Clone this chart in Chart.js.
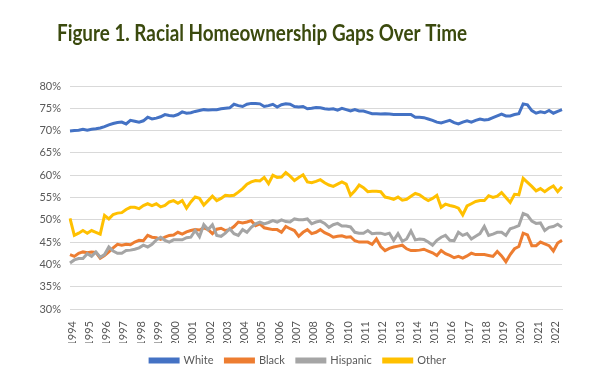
<!DOCTYPE html>
<html>
<head>
<meta charset="utf-8">
<script src="https://cdn.jsdelivr.net/npm/chart.js@4"></script>
<style>
  html, body { margin: 0; padding: 0; background: #fff; }
  #box { width: 596px; height: 376px; }
</style>
</head>
<body>
<div id="box"><canvas id="myChart"></canvas></div>
<script>
// années affichées sur l'axe (une étiquette par T1)
const annees = [1994,1995,1996,1997,1998,1999,2000,2001,2002,2003,2004,2005,2006,2007,
  2008,2009,2010,2011,2012,2013,2014,2015,2016,2017,2018,2019,2020,2021,2022];
const nbTrimestres = 115; // 1994T1 -> 2022T3

// taux de propriétaires (%) par trimestre
const white = [
  69.9,70.0,70.1,70.3, 70.1,70.3,70.4,70.6, 70.9,71.3,71.6,71.8, 71.9,71.5,72.3,72.1,
  71.9,72.2,73.0,72.6, 72.8,73.1,73.6,73.4, 73.3,73.6,74.2,73.9, 74.0,74.3,74.5,74.7,
  74.6,74.7,74.7,74.9, 75.0,75.1,75.9,75.6, 75.4,75.9,76.1,76.1, 76.0,75.4,75.6,75.9,
  75.3,75.8,76.0,75.9, 75.4,75.3,75.4,74.9, 75.0,75.2,75.1,74.9, 74.8,74.9,74.6,75.0,
  74.7,74.4,74.7,74.4, 74.4,74.1,73.8,73.8, 73.7,73.8,73.7,73.6, 73.6,73.6,73.6,73.6,
  73.0,73.0,72.9,72.6, 72.3,71.9,71.7,72.0, 72.3,71.8,71.5,71.9, 72.2,71.9,72.3,72.6,
  72.4,72.5,72.9,73.3, 73.7,73.3,73.3,73.6, 73.8,76.0,75.8,74.5, 73.9,74.2,74.0,74.5,
  73.9,74.3,74.7
];
const black = [
  42.2,41.8,42.5,42.8, 42.6,42.8,42.7,41.4, 42.0,42.8,43.7,44.5, 44.3,44.5,44.4,45.0,
  45.4,45.3,46.5,46.1, 46.0,45.6,46.1,46.5, 46.6,47.2,46.8,47.3, 47.6,47.8,47.7,48.2,
  47.8,46.9,47.9,48.1, 47.6,47.8,48.5,49.5, 49.3,49.5,49.8,48.7, 49.1,48.2,48.0,47.8,
  47.8,47.2,48.5,48.0, 47.6,46.3,47.2,47.8, 46.9,47.2,47.8,47.1, 46.7,46.1,46.3,46.4,
  46.1,46.2,45.3,45.0, 45.0,45.0,44.5,45.7, 44.0,43.1,43.6,43.9, 44.1,44.3,43.5,43.1,
  43.1,43.2,43.4,43.0, 42.6,42.0,43.1,42.4, 42.0,41.5,41.8,41.4, 41.9,42.5,42.2,42.2,
  42.2,42.0,41.8,42.9, 41.9,40.6,42.2,43.5, 44.0,47.0,46.6,44.2, 44.2,45.0,44.6,44.2,
  43.0,44.8,45.4
];
const hispanic = [
  40.3,41.0,41.3,41.3, 42.4,41.8,42.8,41.6, 42.2,43.9,43.0,42.5, 42.5,43.1,43.2,43.4,
  43.7,44.3,43.9,44.5, 45.5,46.1,45.4,45.0, 45.5,45.5,45.5,46.0, 46.1,47.6,46.2,48.9,
  47.8,48.9,46.5,46.3, 47.0,48.0,46.9,46.5, 47.8,47.2,48.3,49.1, 49.5,49.1,49.4,49.8,
  49.5,50.0,49.6,49.5, 50.2,50.0,50.0,50.2, 49.1,49.5,49.7,49.2, 48.3,48.9,49.2,48.6,
  48.6,48.4,47.2,47.0, 47.0,47.6,46.9,47.0, 47.0,46.7,47.0,45.4, 46.9,45.2,45.7,47.5,
  45.5,45.7,45.6,45.0, 44.3,45.4,46.1,46.5, 45.4,45.3,47.2,46.5, 46.9,45.7,46.3,46.9,
  48.5,46.5,46.8,47.2, 47.2,46.5,48.0,48.3, 48.7,51.4,51.0,49.7, 49.2,49.3,47.6,48.3,
  48.5,49.0,48.3
];
const other = [
  50.3,46.5,47.0,47.6, 47.0,47.6,47.2,46.8, 51.0,50.2,51.2,51.5, 51.6,52.3,52.8,52.8,
  52.5,53.2,53.6,53.2, 53.6,52.9,53.2,54.0, 54.3,53.7,54.3,52.6, 54.0,55.1,54.8,53.3,
  54.3,55.3,54.3,54.8, 55.5,55.4,55.5,56.2, 57.0,58.0,58.5,58.8, 58.7,59.5,58.1,60.0,
  59.5,59.6,60.6,59.8, 58.8,59.5,60.1,58.5, 58.3,58.6,59.0,58.3, 57.8,57.5,58.0,58.5,
  58.0,55.5,56.5,57.8, 57.2,56.3,56.4,56.4, 56.3,55.1,54.9,54.6, 55.1,54.4,54.6,55.3,
  55.9,55.6,54.9,54.3, 54.8,55.5,52.8,53.5, 53.2,53.0,52.6,51.1, 53.1,53.6,54.1,54.3,
  54.3,55.4,55.0,55.3, 56.1,55.0,53.9,55.7, 55.6,59.3,58.4,57.5, 56.5,57.0,56.3,57.0,
  57.6,56.3,57.4
];

// catégories trimestrielles construites à partir des années
const trimestres = [];
for (let i = 0; i < nbTrimestres; i++) {
  trimestres.push(annees[Math.floor(i / 4)] + ' T' + (i % 4 + 1));
}

const titre = 'Figure 1. Racial Homeownership Gaps Over Time';
const police = 'Lato, "Open Sans", sans-serif';
const gris = '#595959';

const series = [
  {label: 'White', data: white, color: '#4472C4', order: 3},
  {label: 'Black', data: black, color: '#ED7D31', order: 2},
  {label: 'Hispanic', data: hispanic, color: '#A5A5A5', order: 1},
  {label: 'Other', data: other, color: '#FFC000', order: 0}
];

const data = {
  labels: trimestres,
  datasets: series.map(s => ({
    label: s.label,
    data: s.data,
    borderColor: s.color,
    backgroundColor: s.color,
    borderWidth: 3,
    pointRadius: 0,
    tension: 0,
    order: s.order // Other au premier plan, comme dans Excel
  }))
};

// Titre dessiné à la main : police un peu resserrée comme l'original
const Titre = {
  id: 'Titre',
  afterDraw(chart) {
    const {ctx} = chart;
    ctx.save();
    ctx.font = 'bold 22px ' + police;
    ctx.fillStyle = '#3b4a0e';
    ctx.textAlign = 'center';
    ctx.textBaseline = 'middle';
    const largeur = ctx.measureText(titre).width;
    ctx.translate(262, 34);
    ctx.scale(410 / largeur, 1);
    ctx.fillText(titre, 0, 0);
    ctx.restore();
  }
};

const config = {
  type: 'line',
  data,
  options: {
    responsive: false,
    animation: false,
    layout: {
      padding: {left: 0, right: 0, top: 86, bottom: 0}
    },
    scales: {
      x: {
        grid: {display: false},
        border: {color: '#d9d9d9'},
        ticks: {
          autoSkip: false,
          maxRotation: 90,
          minRotation: 90,
          padding: 4,
          labelOffset: 2,
          color: gris,
          font: {family: police, size: 11},
          callback: (val, i) => (i % 4 === 0 ? String(annees[i / 4]) : '')
        },
        afterFit: (s) => { s.height = 34; }
      },
      y: {
        min: 30,
        max: 80,
        grid: {color: '#d9d9d9', drawTicks: false},
        border: {display: false},
        ticks: {
          stepSize: 5,
          padding: 9,
          color: gris,
          font: {family: police, size: 11},
          callback: (v) => v + '%'
        },
        afterFit: (s) => { s.width = 70; }
      },
      // axe vide à droite, juste pour la marge
      marge: {
        position: 'right',
        grid: {display: false},
        border: {display: false},
        ticks: {display: false},
        afterFit: (s) => { s.width = 34; }
      }
    },
    plugins: {
      title: {display: false},
      legend: {
        position: 'bottom',
        labels: {
          boxWidth: 28,
          boxHeight: 3,
          padding: 12,
          color: gris,
          font: {family: police, size: 11},
          sort: (a, b) => a.datasetIndex - b.datasetIndex
        }
      },
      tooltip: {enabled: false}
    }
  },
  plugins: [Titre]
};

const canvas = document.getElementById('myChart');
canvas.width = 596;
canvas.height = 376;
const myChart = new Chart(canvas, config);
</script>
</body>
</html>
